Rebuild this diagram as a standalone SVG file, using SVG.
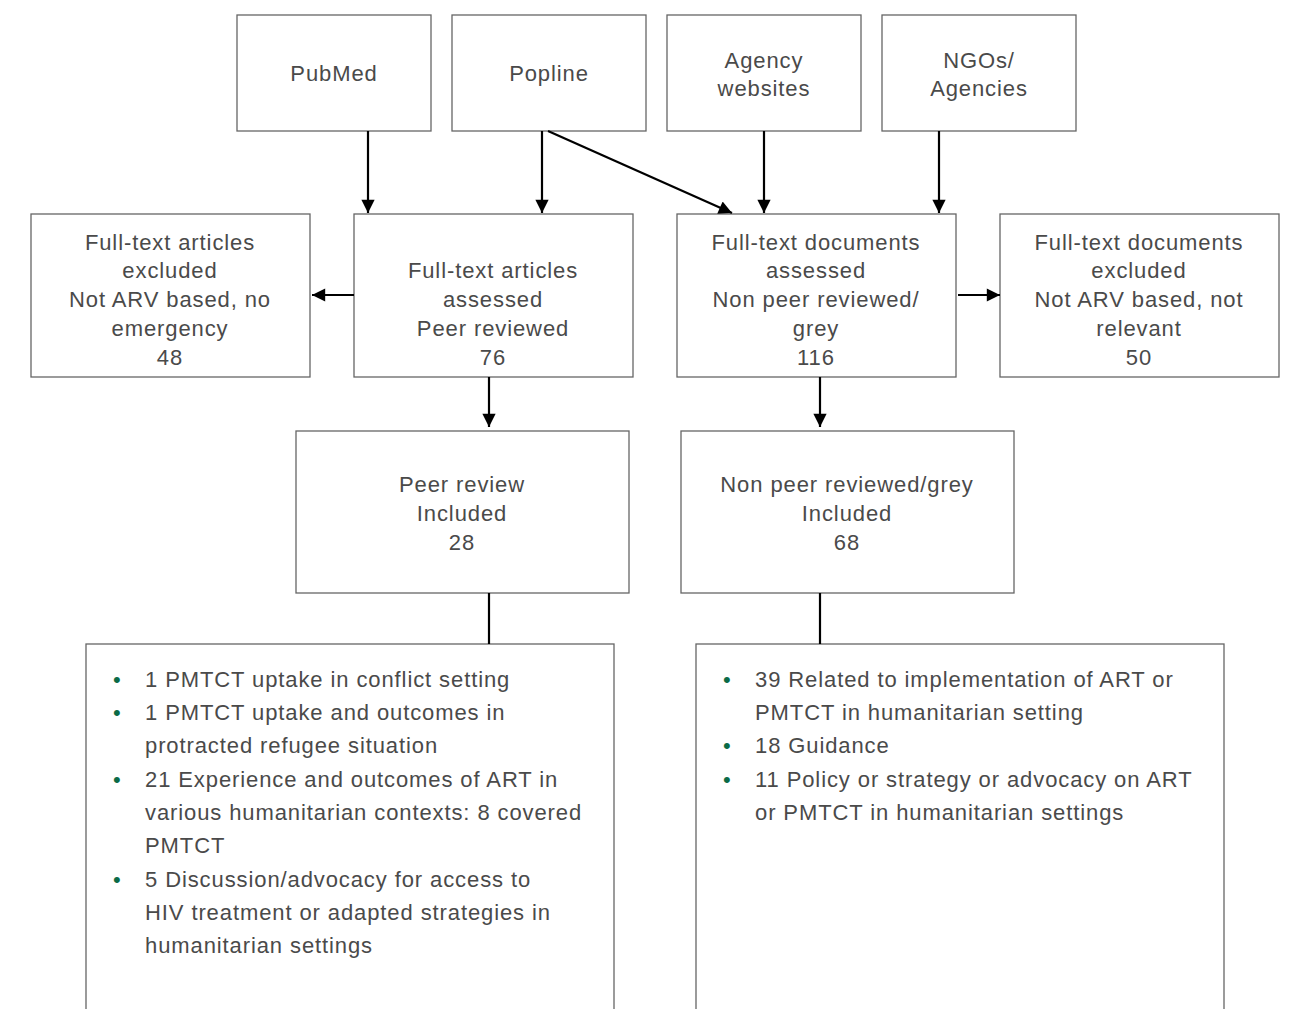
<svg xmlns="http://www.w3.org/2000/svg" width="1291" height="1009" viewBox="0 0 1291 1009">
<style>
rect{fill:#fff;stroke:#666;stroke-width:1.3}
text{font-family:"Liberation Sans",Arial,sans-serif;font-size:22px;fill:#4a4a4a;letter-spacing:0.9px}
.c{text-anchor:middle}
.b{fill:#0b6b47}
.l{stroke:#000;stroke-width:2.2;fill:none}
</style>
<defs>
<marker id="ah" viewBox="0 0 10 10" refX="10" refY="5" markerWidth="7" markerHeight="6" markerUnits="strokeWidth" orient="auto"><path d="M0,0L10,5L0,10z" fill="#000"/></marker>
</defs>
<rect x="0" y="0" width="1291" height="1009" style="stroke:none"/>
<g id="pubmed"><rect x="237" y="15" width="194" height="116"/><text class="c" x="334" y="81">PubMed</text></g>
<g id="popline"><rect x="452" y="15" width="194" height="116"/><text class="c" x="549" y="81">Popline</text></g>
<g id="agency"><rect x="667" y="15" width="194" height="116"/><text class="c" x="764" y="68">Agency</text><text class="c" x="764" y="96">websites</text></g>
<g id="ngos"><rect x="882" y="15" width="194" height="116"/><text class="c" x="979" y="68">NGOs/</text><text class="c" x="979" y="96">Agencies</text></g>
<g id="art-excluded"><rect x="31" y="214" width="279" height="163"/>
<text class="c" x="170" y="250">Full-text articles</text><text class="c" x="170" y="278">excluded</text><text class="c" x="170" y="307">Not ARV based, no</text><text class="c" x="170" y="336">emergency</text><text class="c" x="170" y="365">48</text></g>
<g id="art-assessed"><rect x="354" y="214" width="279" height="163"/>
<text class="c" x="493" y="278">Full-text articles</text><text class="c" x="493" y="307">assessed</text><text class="c" x="493" y="336">Peer reviewed</text><text class="c" x="493" y="365">76</text></g>
<g id="doc-assessed"><rect x="677" y="214" width="279" height="163"/>
<text class="c" x="816" y="250">Full-text documents</text><text class="c" x="816" y="278">assessed</text><text class="c" x="816" y="307">Non peer reviewed/</text><text class="c" x="816" y="336">grey</text><text class="c" x="816" y="365">116</text></g>
<g id="doc-excluded"><rect x="1000" y="214" width="279" height="163"/>
<text class="c" x="1139" y="250">Full-text documents</text><text class="c" x="1139" y="278">excluded</text><text class="c" x="1139" y="307">Not ARV based, not</text><text class="c" x="1139" y="336">relevant</text><text class="c" x="1139" y="365">50</text></g>
<g id="peer-included"><rect x="296" y="431" width="333" height="162"/>
<text class="c" x="462" y="492">Peer review</text><text class="c" x="462" y="521">Included</text><text class="c" x="462" y="550">28</text></g>
<g id="grey-included"><rect x="681" y="431" width="333" height="162"/>
<text class="c" x="847" y="492">Non peer reviewed/grey</text><text class="c" x="847" y="521">Included</text><text class="c" x="847" y="550">68</text></g>
<g id="peer-list"><rect x="86" y="644" width="528" height="380"/>
<text class="b" x="113" y="687">•</text><text x="145" y="687">1 PMTCT uptake in conflict setting</text>
<text class="b" x="113" y="720">•</text><text x="145" y="720">1 PMTCT uptake and outcomes in</text>
<text x="145" y="753">protracted refugee situation</text>
<text class="b" x="113" y="787">•</text><text x="145" y="787">21 Experience and outcomes of ART in</text>
<text x="145" y="820">various humanitarian contexts: 8 covered</text>
<text x="145" y="853">PMTCT</text>
<text class="b" x="113" y="887">•</text><text x="145" y="887">5 Discussion/advocacy for access to</text>
<text x="145" y="920">HIV treatment or adapted strategies in</text>
<text x="145" y="953">humanitarian settings</text></g>
<g id="grey-list"><rect x="696" y="644" width="528" height="380"/>
<text class="b" x="723" y="687">•</text><text x="755" y="687">39 Related to implementation of ART or</text>
<text x="755" y="720">PMTCT in humanitarian setting</text>
<text class="b" x="723" y="753">•</text><text x="755" y="753">18 Guidance</text>
<text class="b" x="723" y="787">•</text><text x="755" y="787">11 Policy or strategy or advocacy on ART</text>
<text x="755" y="820">or PMTCT in humanitarian settings</text></g>
<g id="connectors">
<path class="l" d="M368,131V213" marker-end="url(#ah)"/>
<path class="l" d="M542,131V213" marker-end="url(#ah)"/>
<path class="l" d="M548,131L732,213" marker-end="url(#ah)"/>
<path class="l" d="M764,131V213" marker-end="url(#ah)"/>
<path class="l" d="M939,131V213" marker-end="url(#ah)"/>
<path class="l" d="M354,295H312" marker-end="url(#ah)"/>
<path class="l" d="M958,295H1000" marker-end="url(#ah)"/>
<path class="l" d="M489,377V427" marker-end="url(#ah)"/>
<path class="l" d="M820,377V427" marker-end="url(#ah)"/>
<path class="l" d="M489,593V644"/>
<path class="l" d="M820,593V644"/>
</g>
</svg>
